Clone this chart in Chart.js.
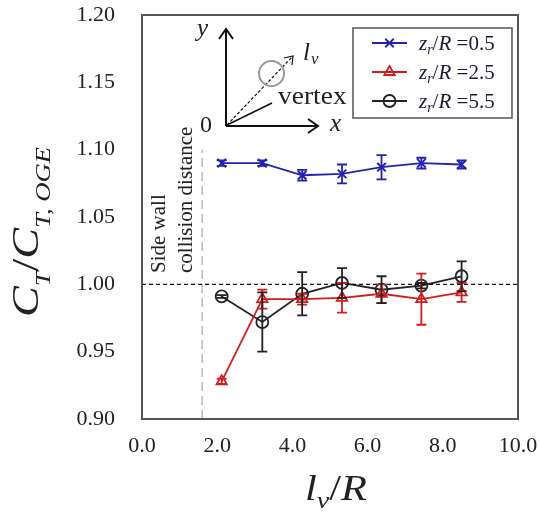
<!DOCTYPE html>
<html>
<head>
<meta charset="utf-8">
<script src="https://cdn.jsdelivr.net/npm/chart.js@4"></script>
<style>
  html, body { margin: 0; padding: 0; background: #fff; }
  canvas { display: block; }
</style>
</head>
<body>
<canvas id="chart" width="539" height="516"></canvas>
<script>
// lv/R positions of the measurements
const lvR = [2.12, 3.2, 4.26, 5.32, 6.37, 7.43, 8.5];
// zr/R values of the three series
const zrR = ["0.5", "2.5", "5.5"];
// CT / CT,OGE
const ctZ05 = [1.090, 1.090, 1.081, 1.082, 1.087, 1.090, 1.089];
const errZ05 = [0.002, 0.002, 0.004, 0.007, 0.009, 0.004, 0.003];
const ctZ25 = [0.928, 0.989, 0.989, 0.990, 0.993, 0.989, 0.994];
const errZ25 = [0.002, 0.007, 0.004, 0.011, 0.007, 0.019, 0.007];
const ctZ55 = [0.991, 0.972, 0.993, 1.001, 0.996, 0.999, 1.006];
const errZ55 = [0.001, 0.022, 0.016, 0.011, 0.010, 0.002, 0.011];
// reference lines
const sideWallX = 1.6;
const xTicks = [0, 2, 4, 6, 8, 10];

const SERIF = "'Liberation Serif', 'Times New Roman', serif";
const BLUE = "#2323b0";
const RED = "#d41c1c";
const BLACK = "#222222";

function pts(ys) {
    return lvR.map((x, i) => ({ x: x, y: ys[i] }));
}

// error bars from each dataset's errors list, through the y scale
const errorBars = {
    id: "errorBars",
    afterDatasetsDraw(chart) {
        const ctx = chart.ctx;
        const yScale = chart.scales.y;
        chart.data.datasets.forEach((ds, i) => {
            if (!ds.errors) return;
            const meta = chart.getDatasetMeta(i);
            ctx.save();
            ctx.strokeStyle = ds.borderColor;
            ctx.lineWidth = 1.8;
            meta.data.forEach((el, j) => {
                const v = ds.data[j].y;
                const e = ds.errors[j];
                const top = yScale.getPixelForValue(v + e);
                const bot = yScale.getPixelForValue(v - e);
                ctx.beginPath();
                ctx.moveTo(el.x, top); ctx.lineTo(el.x, bot);
                ctx.moveTo(el.x - 5, top); ctx.lineTo(el.x + 5, top);
                ctx.moveTo(el.x - 5, bot); ctx.lineTo(el.x + 5, bot);
                ctx.stroke();
            });
            ctx.restore();
        });
    }
};

// draws a run of [text, font, dy] parts, scaled to a given width
function drawParts(ctx, parts, width) {
    let w = 0;
    parts.forEach(p => { ctx.font = p[1]; w += ctx.measureText(p[0]).width; });
    const s = width / w;
    ctx.scale(s, 1);
    let x = -w / 2;
    parts.forEach(p => {
        ctx.font = p[1];
        ctx.fillText(p[0], x, p[2]);
        x += ctx.measureText(p[0]).width;
    });
}

const decorations = {
    id: "decorations",
    afterDraw(chart) {
        const ctx = chart.ctx;
        const a = chart.chartArea;
        ctx.save();
        // frame
        ctx.strokeStyle = "#555";
        ctx.lineWidth = 2;
        ctx.strokeRect(a.left, a.top, a.right - a.left, a.bottom - a.top);

        ctx.fillStyle = BLACK;
        ctx.textBaseline = "alphabetic";

        // y axis title
        ctx.save();
        ctx.translate(38, 232);
        ctx.rotate(-Math.PI / 2);
        drawParts(ctx, [
            ["C", "italic 38px " + SERIF, 0],
            ["T", "italic 22px " + SERIF, 12],
            ["/", "38px " + SERIF, 0],
            ["C", "italic 38px " + SERIF, 0],
            ["T, OGE", "italic 22px " + SERIF, 12]
        ], 170);
        ctx.restore();

        // x axis title
        ctx.save();
        ctx.translate(336, 500);
        drawParts(ctx, [
            ["l", "italic 36px " + SERIF, 0],
            ["v", "italic 24px " + SERIF, 8],
            ["/", "36px " + SERIF, 0],
            ["R", "italic 36px " + SERIF, 0]
        ], 62);
        ctx.restore();

        // side wall label
        ctx.save();
        ctx.translate(165, 273);
        ctx.rotate(-Math.PI / 2);
        ctx.font = "21px " + SERIF;
        ctx.textAlign = "left";
        ctx.fillText("Side wall", 0, 0);
        ctx.fillText("collision distance", 0, 27);
        ctx.restore();

        // legend
        ctx.strokeStyle = "#555";
        ctx.lineWidth = 1.5;
        ctx.strokeRect(353, 28, 159, 90);
        const legendDs = chart.data.datasets.filter(d => d.errors);
        legendDs.forEach((ds, i) => {
            const y = 43 + i * 29;
            ctx.strokeStyle = ds.borderColor;
            ctx.fillStyle = ds.backgroundColor;
            ctx.lineWidth = 1.8;
            ctx.beginPath();
            ctx.moveTo(372, y); ctx.lineTo(407, y);
            ctx.stroke();
            Chart.helpers.drawPoint(ctx, {
                pointStyle: ds.pointStyle, radius: ds.pointRadius,
                borderWidth: ds.pointBorderWidth, rotation: 0
            }, 389.5, y);
            let x = 419;
            const parts = [
                ["z", "italic 21px " + SERIF, 0],
                ["r", "italic 14px " + SERIF, 4],
                ["/", "21px " + SERIF, 0],
                ["R", "italic 21px " + SERIF, 0],
                [" =" + zrR[i], "21px " + SERIF, 0]
            ];
            ctx.fillStyle = "#1a1a33";
            parts.forEach(p => {
                ctx.font = p[1];
                ctx.fillText(p[0], x, y + 7 + p[2]);
                x += ctx.measureText(p[0]).width;
            });
        });

        // inset sketch
        ctx.strokeStyle = "#111";
        ctx.lineWidth = 2;
        ctx.beginPath();
        ctx.moveTo(226, 126); ctx.lineTo(226, 29);
        ctx.moveTo(219, 39); ctx.lineTo(226, 29); ctx.lineTo(233, 39);
        ctx.moveTo(226, 126); ctx.lineTo(318, 126);
        ctx.moveTo(308, 119); ctx.lineTo(318, 126); ctx.lineTo(308, 133);
        ctx.stroke();
        ctx.lineWidth = 1.5;
        ctx.beginPath();
        ctx.moveTo(227, 125); ctx.lineTo(272, 103);
        ctx.stroke();
        ctx.lineWidth = 1.2;
        ctx.setLineDash([3, 2]);
        ctx.beginPath();
        ctx.moveTo(227, 125); ctx.lineTo(293, 56);
        ctx.stroke();
        ctx.setLineDash([]);
        ctx.beginPath();
        ctx.moveTo(284, 58); ctx.lineTo(293, 56); ctx.lineTo(292, 65);
        ctx.stroke();
        ctx.strokeStyle = "#999";
        ctx.lineWidth = 2;
        ctx.beginPath();
        ctx.arc(271.5, 73.5, 12.5, 0, Math.PI * 2);
        ctx.stroke();

        ctx.fillStyle = BLACK;
        ctx.font = "italic 25px " + SERIF;
        ctx.fillText("y", 197, 36);
        ctx.fillText("x", 330, 131);
        ctx.fillText("l", 303, 60);
        ctx.font = "italic 17px " + SERIF;
        ctx.fillText("v", 311, 64);
        ctx.font = "24px " + SERIF;
        ctx.fillText("0", 200, 132);
        ctx.save();
        ctx.translate(278, 104);
        ctx.scale(1.1, 1);
        ctx.font = "25px " + SERIF;
        ctx.fillText("vertex", 0, 0);
        ctx.restore();

        ctx.restore();
    }
};

const ctx = document.getElementById("chart").getContext("2d");
const chart = new Chart(ctx, {
    type: "scatter",
    data: {
        datasets: [
            {
                label: "1.00",
                data: [{ x: 0, y: 1.0 }, { x: 10, y: 1.0 }],
                showLine: true,
                borderColor: "#111",
                borderWidth: 1.3,
                borderDash: [4, 3],
                pointRadius: 0
            },
            {
                label: "side wall",
                data: [{ x: sideWallX, y: 0.9 }, { x: sideWallX, y: 1.1 }],
                showLine: true,
                borderColor: "#bbbbbb",
                borderWidth: 1.5,
                borderDash: [9, 5],
                pointRadius: 0
            },
            {
                label: "zr/R=0.5",
                data: pts(ctZ05),
                errors: errZ05,
                showLine: true,
                borderColor: BLUE,
                backgroundColor: BLUE,
                borderWidth: 1.8,
                pointStyle: "crossRot",
                pointRadius: 6,
                pointBorderWidth: 2
            },
            {
                label: "zr/R=2.5",
                data: pts(ctZ25),
                errors: errZ25,
                showLine: true,
                borderColor: RED,
                backgroundColor: "rgba(255,255,255,0)",
                borderWidth: 1.8,
                pointStyle: "triangle",
                pointRadius: 6,
                pointBorderWidth: 1.8
            },
            {
                label: "zr/R=5.5",
                data: pts(ctZ55),
                errors: errZ55,
                showLine: true,
                borderColor: BLACK,
                backgroundColor: "rgba(255,255,255,0)",
                borderWidth: 1.8,
                pointStyle: "circle",
                pointRadius: 6,
                pointBorderWidth: 1.8
            }
        ]
    },
    options: {
        responsive: false,
        animation: false,
        layout: { padding: { top: 15, right: 21, left: 0, bottom: 0 } },
        plugins: { legend: { display: false }, tooltip: { enabled: false } },
        scales: {
            x: {
                type: "linear",
                min: 0,
                max: 10,
                afterFit: s => {
                    s.height = 97;
                    s.paddingLeft = 0; s.paddingRight = 0;
                },
                afterBuildTicks: s => { s.ticks = xTicks.map(v => ({ value: v })); },
                grid: { display: false, drawTicks: false },
                border: { display: false },
                ticks: {
                    padding: 14,
                    color: BLACK,
                    font: { family: SERIF, size: 22 },
                    callback: v => v.toFixed(1)
                }
            },
            y: {
                min: 0.9,
                max: 1.2,
                afterFit: s => {
                    s.width = 142;
                    s.paddingTop = 0; s.paddingBottom = 0;
                },
                grid: { display: false, drawTicks: false },
                border: { display: false },
                ticks: {
                    stepSize: 0.05,
                    padding: 27,
                    color: BLACK,
                    font: { family: SERIF, size: 22 },
                    callback: v => v.toFixed(2)
                }
            }
        }
    },
    plugins: [errorBars, decorations]
});
</script>
</body>
</html>
